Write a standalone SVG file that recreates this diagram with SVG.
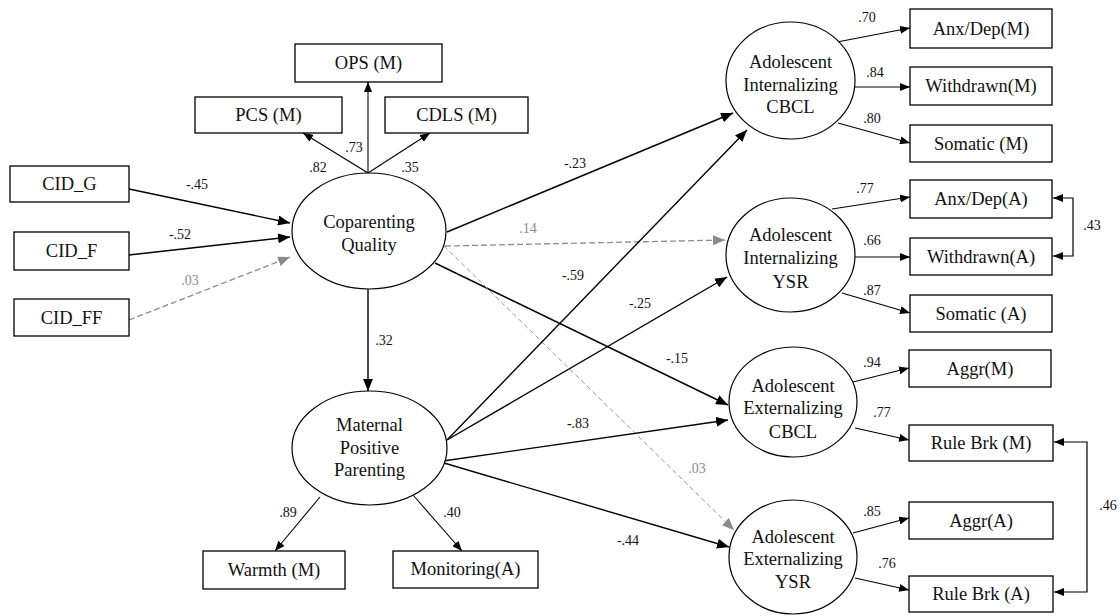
<svg xmlns="http://www.w3.org/2000/svg" width="1120" height="616" viewBox="0 0 1120 616" font-family="Liberation Serif, Tinos, DejaVu Serif, serif">
<style>
.box{fill:#fff;stroke:#000;stroke-width:1.3}
.ell{fill:#fff;stroke:#000;stroke-width:1.2}
text{font-family:"Liberation Serif",Tinos,"DejaVu Serif",serif}
.t{font-size:18.5px;text-anchor:middle;fill:#111}
.lb{font-size:14px;text-anchor:middle;fill:#111}
.lg{font-size:14px;text-anchor:middle;fill:#8a8a8a}
.m{fill:none;stroke:#000;stroke-width:1.4;marker-end:url(#a)}
.l{fill:none;stroke:#000;stroke-width:1.1;marker-end:url(#s)}
.gd{fill:none;stroke:#8a8a8a;stroke-width:1.3;stroke-dasharray:6 3;marker-end:url(#g)}
.gt{fill:none;stroke:#9a9a9a;stroke-width:1;stroke-dasharray:5 3;marker-end:url(#g)}
.cv{fill:none;stroke:#000;stroke-width:1.2;marker-start:url(#c);marker-end:url(#c)}
</style>
<defs>
<marker id="a" viewBox="0 0 12 10" refX="12" refY="5" markerWidth="12" markerHeight="10" orient="auto" markerUnits="userSpaceOnUse"><path d="M0,0 L12,5 L0,10 z" fill="#000"/></marker>
<marker id="s" viewBox="0 0 10 8" refX="10" refY="4" markerWidth="10" markerHeight="8" orient="auto" markerUnits="userSpaceOnUse"><path d="M0,0 L10,4 L0,8 z" fill="#000"/></marker>
<marker id="g" viewBox="0 0 12 10" refX="12" refY="5" markerWidth="12" markerHeight="10" orient="auto" markerUnits="userSpaceOnUse"><path d="M0,0 L12,5 L0,10 z" fill="#8a8a8a"/></marker>
<marker id="c" viewBox="0 0 10 8" refX="10" refY="4" markerWidth="10" markerHeight="8" orient="auto-start-reverse" markerUnits="userSpaceOnUse"><path d="M0,0 L10,4 L0,8 z" fill="#000"/></marker>
</defs>
<rect width="1120" height="616" fill="#fff"/>

<g id="connectors">
<line class="m" x1="129" y1="189" x2="290" y2="223"/>
<line class="m" x1="129" y1="255" x2="290" y2="237"/>
<line class="gd" x1="129" y1="320" x2="290" y2="257"/>
<line class="l" x1="368" y1="173" x2="303" y2="133"/>
<line class="l" x1="368" y1="173" x2="368" y2="82"/>
<line class="l" x1="368" y1="173" x2="430" y2="133"/>
<line class="m" x1="368" y1="289" x2="368" y2="391"/>
<line class="m" x1="447" y1="232" x2="733" y2="113"/>
<line class="gd" x1="445" y1="246" x2="725" y2="240"/>
<line class="m" x1="435" y1="263" x2="728" y2="405"/>
<line class="gt" x1="444" y1="246" x2="734" y2="530"/>
<line class="m" x1="447" y1="440" x2="747" y2="130"/>
<line class="m" x1="447" y1="440" x2="727" y2="277"/>
<line class="m" x1="443" y1="461" x2="728" y2="420"/>
<line class="m" x1="444" y1="463" x2="729" y2="547"/>
<line class="l" x1="320" y1="497" x2="275" y2="551"/>
<line class="l" x1="413" y1="495" x2="462" y2="551"/>
<line class="l" x1="837" y1="42" x2="910" y2="28"/>
<line class="l" x1="855" y1="87" x2="910" y2="87"/>
<line class="l" x1="838" y1="123" x2="910" y2="143"/>
<line class="l" x1="832" y1="209" x2="910" y2="197"/>
<line class="l" x1="855" y1="257" x2="910" y2="257"/>
<line class="l" x1="842" y1="293" x2="910" y2="313"/>
<line class="l" x1="853" y1="382" x2="909" y2="368"/>
<line class="l" x1="855" y1="428" x2="909" y2="440"/>
<line class="l" x1="853" y1="533" x2="909" y2="518"/>
<line class="l" x1="855" y1="578" x2="909" y2="590"/>
<path class="cv" d="M1053,198 H1073 V256 H1053"/>
<path class="cv" d="M1054,442 H1087 V592 H1054"/>
<text class="lb" x="197" y="189">-.45</text>
<text class="lb" x="180" y="239">-.52</text>
<text class="lg" x="190" y="285">.03</text>
<text class="lb" x="318" y="172">.82</text>
<text class="lb" x="354" y="152">.73</text>
<text class="lb" x="410" y="172">.35</text>
<text class="lb" x="384" y="345">.32</text>
<text class="lb" x="575" y="168">-.23</text>
<text class="lg" x="528" y="233">.14</text>
<text class="lb" x="573" y="280">-.59</text>
<text class="lb" x="640" y="308">-.25</text>
<text class="lb" x="677" y="363">-.15</text>
<text class="lb" x="578" y="428">-.83</text>
<text class="lg" x="697" y="473">.03</text>
<text class="lb" x="628" y="545">-.44</text>
<text class="lb" x="288" y="517">.89</text>
<text class="lb" x="452" y="517">.40</text>
<text class="lb" x="867" y="22">.70</text>
<text class="lb" x="875" y="77">.84</text>
<text class="lb" x="872" y="123">.80</text>
<text class="lb" x="865" y="193">.77</text>
<text class="lb" x="872" y="245">.66</text>
<text class="lb" x="872" y="295">.87</text>
<text class="lb" x="1092" y="230">.43</text>
<text class="lb" x="872" y="367">.94</text>
<text class="lb" x="882" y="417">.77</text>
<text class="lb" x="872" y="516">.85</text>
<text class="lb" x="887" y="568">.76</text>
<text class="lb" x="1108" y="510">.46</text>
</g>

<g id="ops"><rect class="box" x="295" y="44" width="147" height="38"/><text class="t" x="368.5" y="69">OPS (M)</text></g>
<g id="pcs"><rect class="box" x="195" y="97" width="147" height="36"/><text class="t" x="268.5" y="121">PCS (M)</text></g>
<g id="cdls"><rect class="box" x="385" y="97" width="143" height="36"/><text class="t" x="456.5" y="121">CDLS (M)</text></g>
<g id="cid_g"><rect class="box" x="10" y="166" width="119" height="36"/><text class="t" x="69.5" y="190">CID_G</text></g>
<g id="cid_f"><rect class="box" x="14" y="232" width="115" height="38"/><text class="t" x="71.5" y="257">CID_F</text></g>
<g id="cid_ff"><rect class="box" x="14" y="299" width="115" height="37"/><text class="t" x="71.5" y="324">CID_FF</text></g>
<g id="coparenting"><ellipse class="ell" cx="369" cy="231" rx="77" ry="58"/><text class="t" x="369" y="228">Coparenting</text><text class="t" x="369" y="251">Quality</text></g>
<g id="maternal"><ellipse class="ell" cx="369.5" cy="448" rx="77.5" ry="57"/><text class="t" x="369.5" y="431">Maternal</text><text class="t" x="369.5" y="454">Positive</text><text class="t" x="369.5" y="476">Parenting</text></g>
<g id="warmth"><rect class="box" x="203" y="551" width="142" height="38"/><text class="t" x="274" y="576">Warmth (M)</text></g>
<g id="monitoring"><rect class="box" x="393" y="551" width="145" height="37"/><text class="t" x="465.5" y="575">Monitoring(A)</text></g>
<g id="int_cbcl"><ellipse class="ell" cx="790.5" cy="80.5" rx="64.5" ry="58.5"/><text class="t" x="790.5" y="68">Adolescent</text><text class="t" x="790.5" y="90.5">Internalizing</text><text class="t" x="790.5" y="113">CBCL</text></g>
<g id="int_ysr"><ellipse class="ell" cx="790.5" cy="255" rx="64.5" ry="57"/><text class="t" x="790.5" y="241">Adolescent</text><text class="t" x="790.5" y="264">Internalizing</text><text class="t" x="790.5" y="288">YSR</text></g>
<g id="ext_cbcl"><ellipse class="ell" cx="793" cy="402" rx="64" ry="55"/><text class="t" x="793" y="392">Adolescent</text><text class="t" x="793" y="414">Externalizing</text><text class="t" x="793" y="438">CBCL</text></g>
<g id="ext_ysr"><ellipse class="ell" cx="793" cy="557" rx="64" ry="57"/><text class="t" x="793" y="543">Adolescent</text><text class="t" x="793" y="565">Externalizing</text><text class="t" x="793" y="588">YSR</text></g>
<g id="anxdep_m"><rect class="box" x="910" y="9" width="142" height="39"/><text class="t" x="981" y="35">Anx/Dep(M)</text></g>
<g id="withdrawn_m"><rect class="box" x="910" y="67" width="142" height="38"/><text class="t" x="981" y="92">Withdrawn(M)</text></g>
<g id="somatic_m"><rect class="box" x="910" y="125" width="142" height="37"/><text class="t" x="981" y="150">Somatic (M)</text></g>
<g id="anxdep_a"><rect class="box" x="910" y="180" width="142" height="38"/><text class="t" x="981" y="205">Anx/Dep(A)</text></g>
<g id="withdrawn_a"><rect class="box" x="910" y="238" width="142" height="37"/><text class="t" x="981" y="263">Withdrawn(A)</text></g>
<g id="somatic_a"><rect class="box" x="910" y="295" width="142" height="37"/><text class="t" x="981" y="320">Somatic (A)</text></g>
<g id="aggr_m"><rect class="box" x="909" y="350" width="142" height="37"/><text class="t" x="980" y="375">Aggr(M)</text></g>
<g id="rulebrk_m"><rect class="box" x="909" y="425" width="144" height="36"/><text class="t" x="981" y="449">Rule Brk (M)</text></g>
<g id="aggr_a"><rect class="box" x="909" y="502" width="144" height="37"/><text class="t" x="981" y="527">Aggr(A)</text></g>
<g id="rulebrk_a"><rect class="box" x="909" y="576" width="144" height="36"/><text class="t" x="981" y="600">Rule Brk (A)</text></g>
</svg>
